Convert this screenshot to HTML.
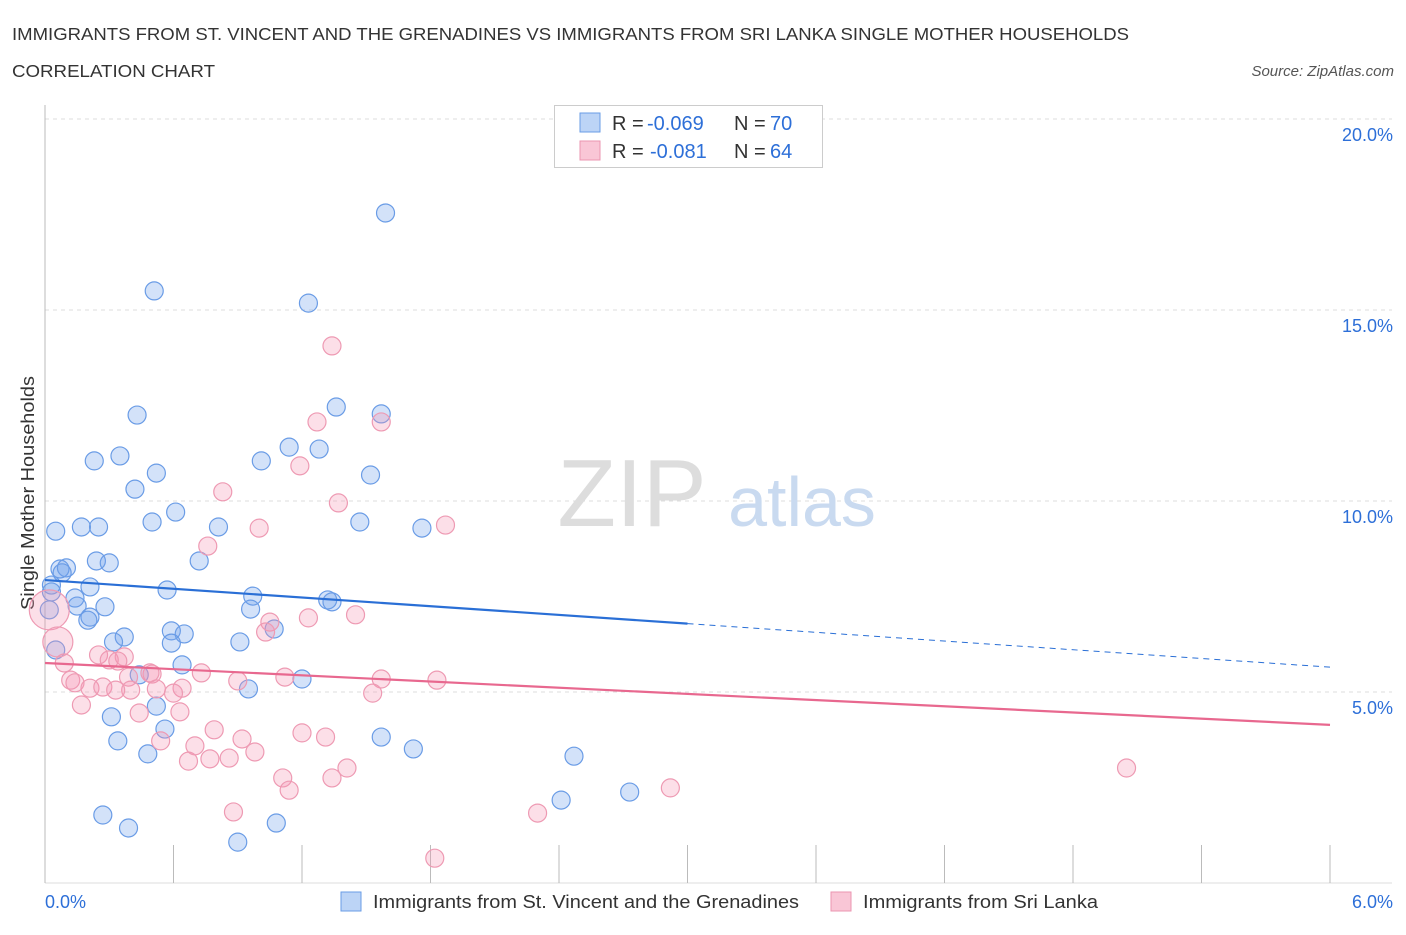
<!DOCTYPE html>
<html><head><meta charset="utf-8"><style>
body{margin:0;background:#fff;font-family:"Liberation Sans",sans-serif;}
svg text{font-family:"Liberation Sans",sans-serif;}
</style></head><body>
<svg width="1406" height="930" viewBox="0 0 1406 930">
<text x="12" y="40" font-size="17.5" fill="#333" textLength="1117" lengthAdjust="spacingAndGlyphs">IMMIGRANTS FROM ST. VINCENT AND THE GRENADINES VS IMMIGRANTS FROM SRI LANKA SINGLE MOTHER HOUSEHOLDS</text>
<text x="12" y="77" font-size="17.5" fill="#333" textLength="203" lengthAdjust="spacingAndGlyphs">CORRELATION CHART</text>
<text x="1394" y="76" font-size="15" fill="#555" font-style="italic" text-anchor="end">Source: ZipAtlas.com</text>
<g id="grid"></g>
<g id="wm">
<text x="632" y="526" font-size="96" fill="#ddd" font-family="Liberation Serif" text-anchor="middle">ZIP</text>
<text x="802" y="526" font-size="70" fill="#c9daf0" text-anchor="middle">atlas</text>
</g>
<g id="axes"></g>
<text transform="translate(34,493) rotate(-90)" font-size="18" fill="#333" text-anchor="middle" textLength="234" lengthAdjust="spacingAndGlyphs">Single Mother Households</text>
<g id="pts"></g>
<g id="trend"></g>
<g>
<rect x="554.5" y="105.5" width="268" height="62" fill="#fff" stroke="#ccc"/>
<rect x="580" y="113" width="20" height="19" fill="#bcd4f6" stroke="#6a9ce6"/>
<rect x="580" y="141" width="20" height="19" fill="#f9c6d6" stroke="#eb95b0"/>
<text x="612" y="130" font-size="20" fill="#333">R =</text>
<text x="647" y="130" font-size="20" fill="#2d6fd8">-0.069</text>
<text x="734" y="130" font-size="20" fill="#333">N =</text>
<text x="770" y="130" font-size="20" fill="#2d6fd8">70</text>
<text x="612" y="158" font-size="20" fill="#333">R =</text>
<text x="650" y="158" font-size="20" fill="#2d6fd8">-0.081</text>
<text x="734" y="158" font-size="20" fill="#333">N =</text>
<text x="770" y="158" font-size="20" fill="#2d6fd8">64</text>
</g>
<g>
<rect x="341" y="892" width="20" height="19" fill="#bcd4f6" stroke="#6a9ce6"/>
<text x="373" y="908" font-size="18" fill="#333" textLength="426" lengthAdjust="spacingAndGlyphs">Immigrants from St. Vincent and the Grenadines</text>
<rect x="831" y="892" width="20" height="19" fill="#f9c6d6" stroke="#eb95b0"/>
<text x="863" y="908" font-size="18" fill="#333" textLength="235" lengthAdjust="spacingAndGlyphs">Immigrants from Sri Lanka</text>
</g>
</svg>
<script>
const xTicks=[0,1,2,3,4,5,6];
const yTicks=[5,10,15,20];
const yTickLabels=["5.0%","10.0%","15.0%","20.0%"];
const blueX=[1.59,0.51,1.23,1.36,1.57,0.43,1.14,1.28,0.23,0.35,0.52,1.01,1.52,0.42,0.61,0.50,0.81,1.47,1.76,0.05,0.17,0.25,0.72,0.24,0.30,0.07,0.10,0.08,0.21,0.57,0.97,0.03,0.03,0.14,0.28,0.96,1.32,1.34,0.21,0.15,0.20,0.37,0.32,0.59,0.65,1.07,0.91,0.59,0.05,0.64,0.44,0.95,1.20,0.52,0.56,0.31,0.34,0.48,1.57,1.72,2.47,2.41,2.73,0.27,0.39,1.08,0.90,0.02];
const blueY=[17.54,15.50,15.18,12.46,12.28,12.25,11.41,11.36,11.05,11.18,10.73,11.05,10.68,10.31,9.71,9.45,9.32,9.45,9.29,9.21,9.32,9.32,8.43,8.43,8.38,8.22,8.25,8.12,7.75,7.67,7.51,7.80,7.62,7.46,7.23,7.17,7.41,7.36,6.96,7.25,6.88,6.44,6.31,6.60,6.52,6.65,6.31,6.28,6.10,5.71,5.45,5.08,5.34,4.63,4.03,4.35,3.72,3.38,3.82,3.51,3.32,2.17,2.38,1.78,1.44,1.57,1.07,7.15];
const pinkX=[1.34,1.27,1.57,1.19,0.83,1.37,1.87,1.00,0.76,1.23,1.45,1.05,1.03,0.25,0.30,0.37,0.09,0.34,0.50,0.39,0.73,0.90,1.12,1.57,1.83,0.12,0.14,0.21,0.27,0.40,0.52,0.64,0.33,0.60,1.53,0.17,0.44,0.63,0.54,0.70,0.79,0.92,0.98,0.67,0.77,0.86,1.20,1.31,1.11,1.14,1.34,1.41,0.88,2.30,2.92,1.82,5.05,0.49,0.02,0.06];
const pinkY=[14.06,12.07,12.07,10.92,10.24,9.95,9.37,9.29,8.82,6.94,7.02,6.83,6.57,5.97,5.84,5.92,5.76,5.81,5.47,5.39,5.50,5.29,5.39,5.34,5.31,5.31,5.24,5.10,5.13,5.05,5.08,5.10,5.05,4.97,4.97,4.66,4.45,4.48,3.72,3.59,4.01,3.77,3.43,3.19,3.25,3.27,3.93,3.82,2.75,2.43,2.75,3.01,1.86,1.83,2.49,0.65,3.01,5.50,7.15,6.31];
const pinkR=[9,9,9,9,9,9,9,9,9,9,9,9,9,9,9,9,9,9,9,9,9,9,9,9,9,9,9,9,9,9,9,9,9,9,9,9,9,9,9,9,9,9,9,9,9,9,9,9,9,9,9,9,9,9,9,9,9,9,20,15];
const blueTrend=[7.93,5.65];
const pinkTrend=[5.76,4.14];
const X0=45,X1=1330,Y0=883,PPY=38.2;
const sx=v=>X0+(X1-X0)*v/6;
const sy=v=>Y0-v*PPY;
const NS="http://www.w3.org/2000/svg";
function mk(t,a,p){const e=document.createElementNS(NS,t);for(const k in a)e.setAttribute(k,a[k]);p.appendChild(e);return e;}
const grid=document.getElementById('grid');
yTicks.forEach((t,i)=>{
 const l=mk('line',{x1:X0,x2:1392,y1:sy(t),y2:sy(t),stroke:'#ddd','stroke-dasharray':'4,4'},grid);
 
 
 const tx=mk('text',{x:1393,y:sy(t)+22,'font-size':18,fill:'#2d6fd8','text-anchor':'end'},grid);
 tx.textContent=yTickLabels[i];
 
 
});
const ax=document.getElementById('axes');
mk('line',{x1:X0,x2:X0,y1:105,y2:Y0,stroke:'#bbb'},ax);
mk('line',{x1:X0,x2:1392,y1:Y0,y2:Y0,stroke:'#ddd'},ax);
for(let i=0;i<=10;i++){const v=i*0.6;const l=mk('line',{x1:sx(v),x2:sx(v),y1:845,y2:Y0,stroke:'#bbb'},ax);
 
 }
const xl0=mk('text',{x:45,y:908,'font-size':18,fill:'#2d6fd8'},ax);xl0.textContent='0.0%';


const xl1=mk('text',{x:1393,y:908,'font-size':18,fill:'#2d6fd8','text-anchor':'end'},ax);xl1.textContent='6.0%';


const pts=document.getElementById('pts');
blueX.forEach((x,i)=>{const c=mk('circle',{cx:sx(x),cy:sy(blueY[i]),r:9,fill:'rgba(110,160,235,0.3)',stroke:'#6a9ce6','stroke-width':1.2},pts);
 
 });
pinkX.forEach((x,i)=>{const c=mk('circle',{cx:sx(x),cy:sy(pinkY[i]),r:pinkR[i],fill:'rgba(245,150,180,0.3)',stroke:'#ee9ab3','stroke-width':1.2},pts);
 
 });
const tr=document.getElementById('trend');
const bAt=v=>blueTrend[0]+(blueTrend[1]-blueTrend[0])*v/6;
const b1=mk('line',{x1:sx(0),y1:sy(bAt(0)),x2:sx(3),y2:sy(bAt(3)),stroke:'#2a6fd6','stroke-width':2.2},tr);


const b2=mk('line',{x1:sx(3),y1:sy(bAt(3)),x2:sx(6),y2:sy(bAt(6)),stroke:'#2a6fd6','stroke-width':1,'stroke-dasharray':'6,5'},tr);


const p1=mk('line',{x1:sx(0),y1:sy(pinkTrend[0]),x2:sx(6),y2:sy(pinkTrend[1]),stroke:'#e8688f','stroke-width':2.2},tr);


</script>
</body></html>
